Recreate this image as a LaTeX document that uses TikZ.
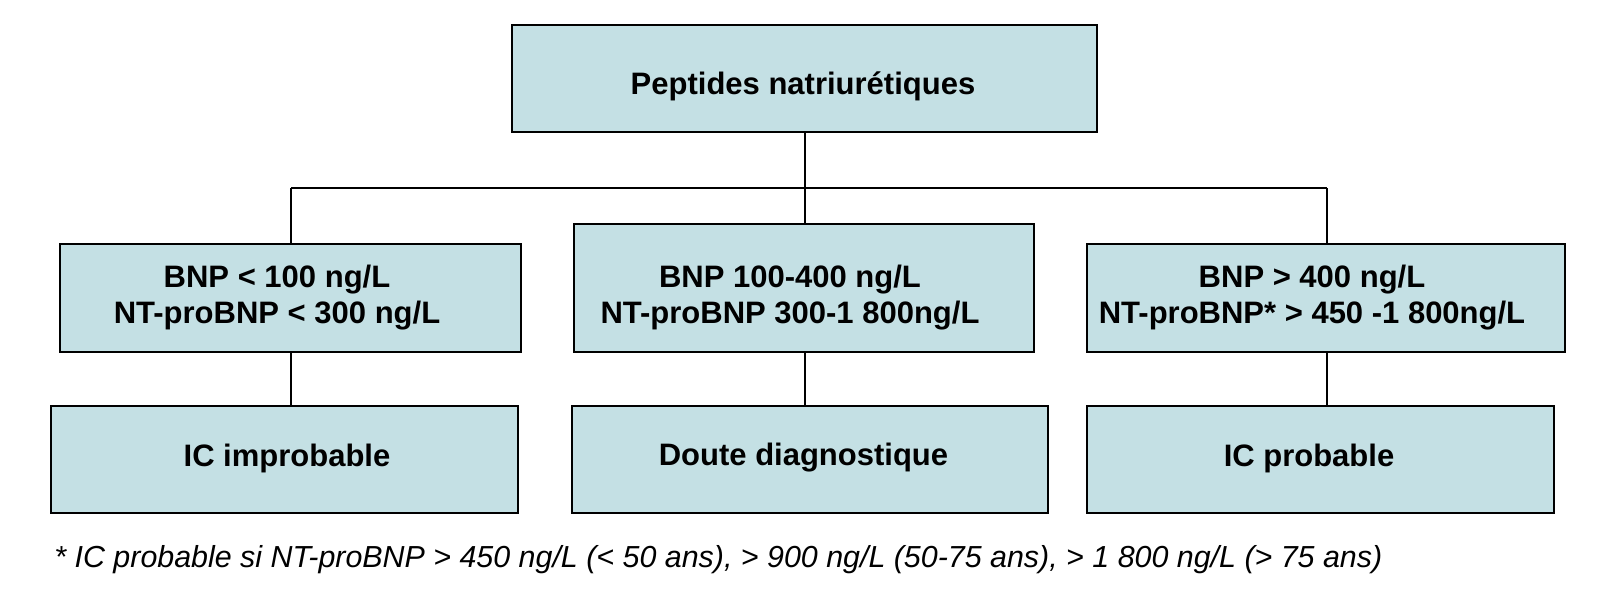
\documentclass[tikz,border=0pt]{standalone}
\usepackage{fontspec}
\setmainfont{Liberation Sans}
\definecolor{boxfill}{RGB}{196,224,228}
\begin{document}
\begin{tikzpicture}[x=0.5pt,y=-0.5pt,
  box/.style={draw=black,line width=1pt,fill=boxfill,inner sep=0pt},
  label text/.style={inner sep=0pt,align=center,font=\fontsize{15.5}{18}\selectfont\bfseries},
  conn/.style={draw=black,line width=1pt}]
\useasboundingbox (0,0) rectangle (1600,599);
% boxes
\node[box,minimum width=292.5pt,minimum height=53.5pt] (top) at (804.5,78.5) {};
\node[box,minimum width=230.5pt,minimum height=54pt] (mL) at (290.5,298) {};
\node[box,minimum width=230pt,minimum height=64pt] (mM) at (804,288) {};
\node[box,minimum width=239pt,minimum height=54pt] (mR) at (1326,298) {};
\node[box,minimum width=233.5pt,minimum height=53.5pt] (bL) at (284.5,459.5) {};
\node[box,minimum width=238pt,minimum height=53.5pt] (bM) at (810,459.5) {};
\node[box,minimum width=233.5pt,minimum height=53.5pt] (bR) at (1320.5,459.5) {};
% texts
\node[label text] (topT) at (803,86) {Peptides natriurétiques};
\node[label text] (mLT) at (277,298) {BNP < 100 ng/L\\NT-proBNP < 300 ng/L};
\node[label text] (mMT) at (790,298) {BNP 100-400 ng/L\\NT-proBNP 300-1 800ng/L};
\node[label text] (mRT) at (1312,298) {BNP > 400 ng/L\\NT-proBNP* > 450 -1 800ng/L};
\node[label text] (bLT) at (287,458) {IC improbable};
\node[label text] (bMT) at (803.5,458) {Doute diagnostique};
\node[label text] (bRT) at (1309,458) {IC probable};
% connectors
\coordinate (jL) at (291,188);
\coordinate (jM) at (805,188);
\coordinate (jR) at (1327,188);
\draw[conn] (jL) -- (jR);
\draw[conn] (top.south -| jM) -- (jM);
\draw[conn] (jL) -- (jL |- mL.north);
\draw[conn] (jM) -- (jM |- mM.north);
\draw[conn] (jR) -- (jR |- mR.north);
\draw[conn] (mL.south -| jL) -- (bL.north -| jL);
\draw[conn] (mM.south -| jM) -- (bM.north -| jM);
\draw[conn] (mR.south -| jR) -- (bR.north -| jR);
% footnote
\node[anchor=west,inner sep=0pt,font=\fontsize{15.2}{18}\selectfont\itshape] (note) at (54,560)
  {* IC probable si NT-proBNP > 450 ng/L (< 50 ans), > 900 ng/L (50-75 ans), > 1 800 ng/L (> 75 ans)};
\end{tikzpicture}
\end{document}
